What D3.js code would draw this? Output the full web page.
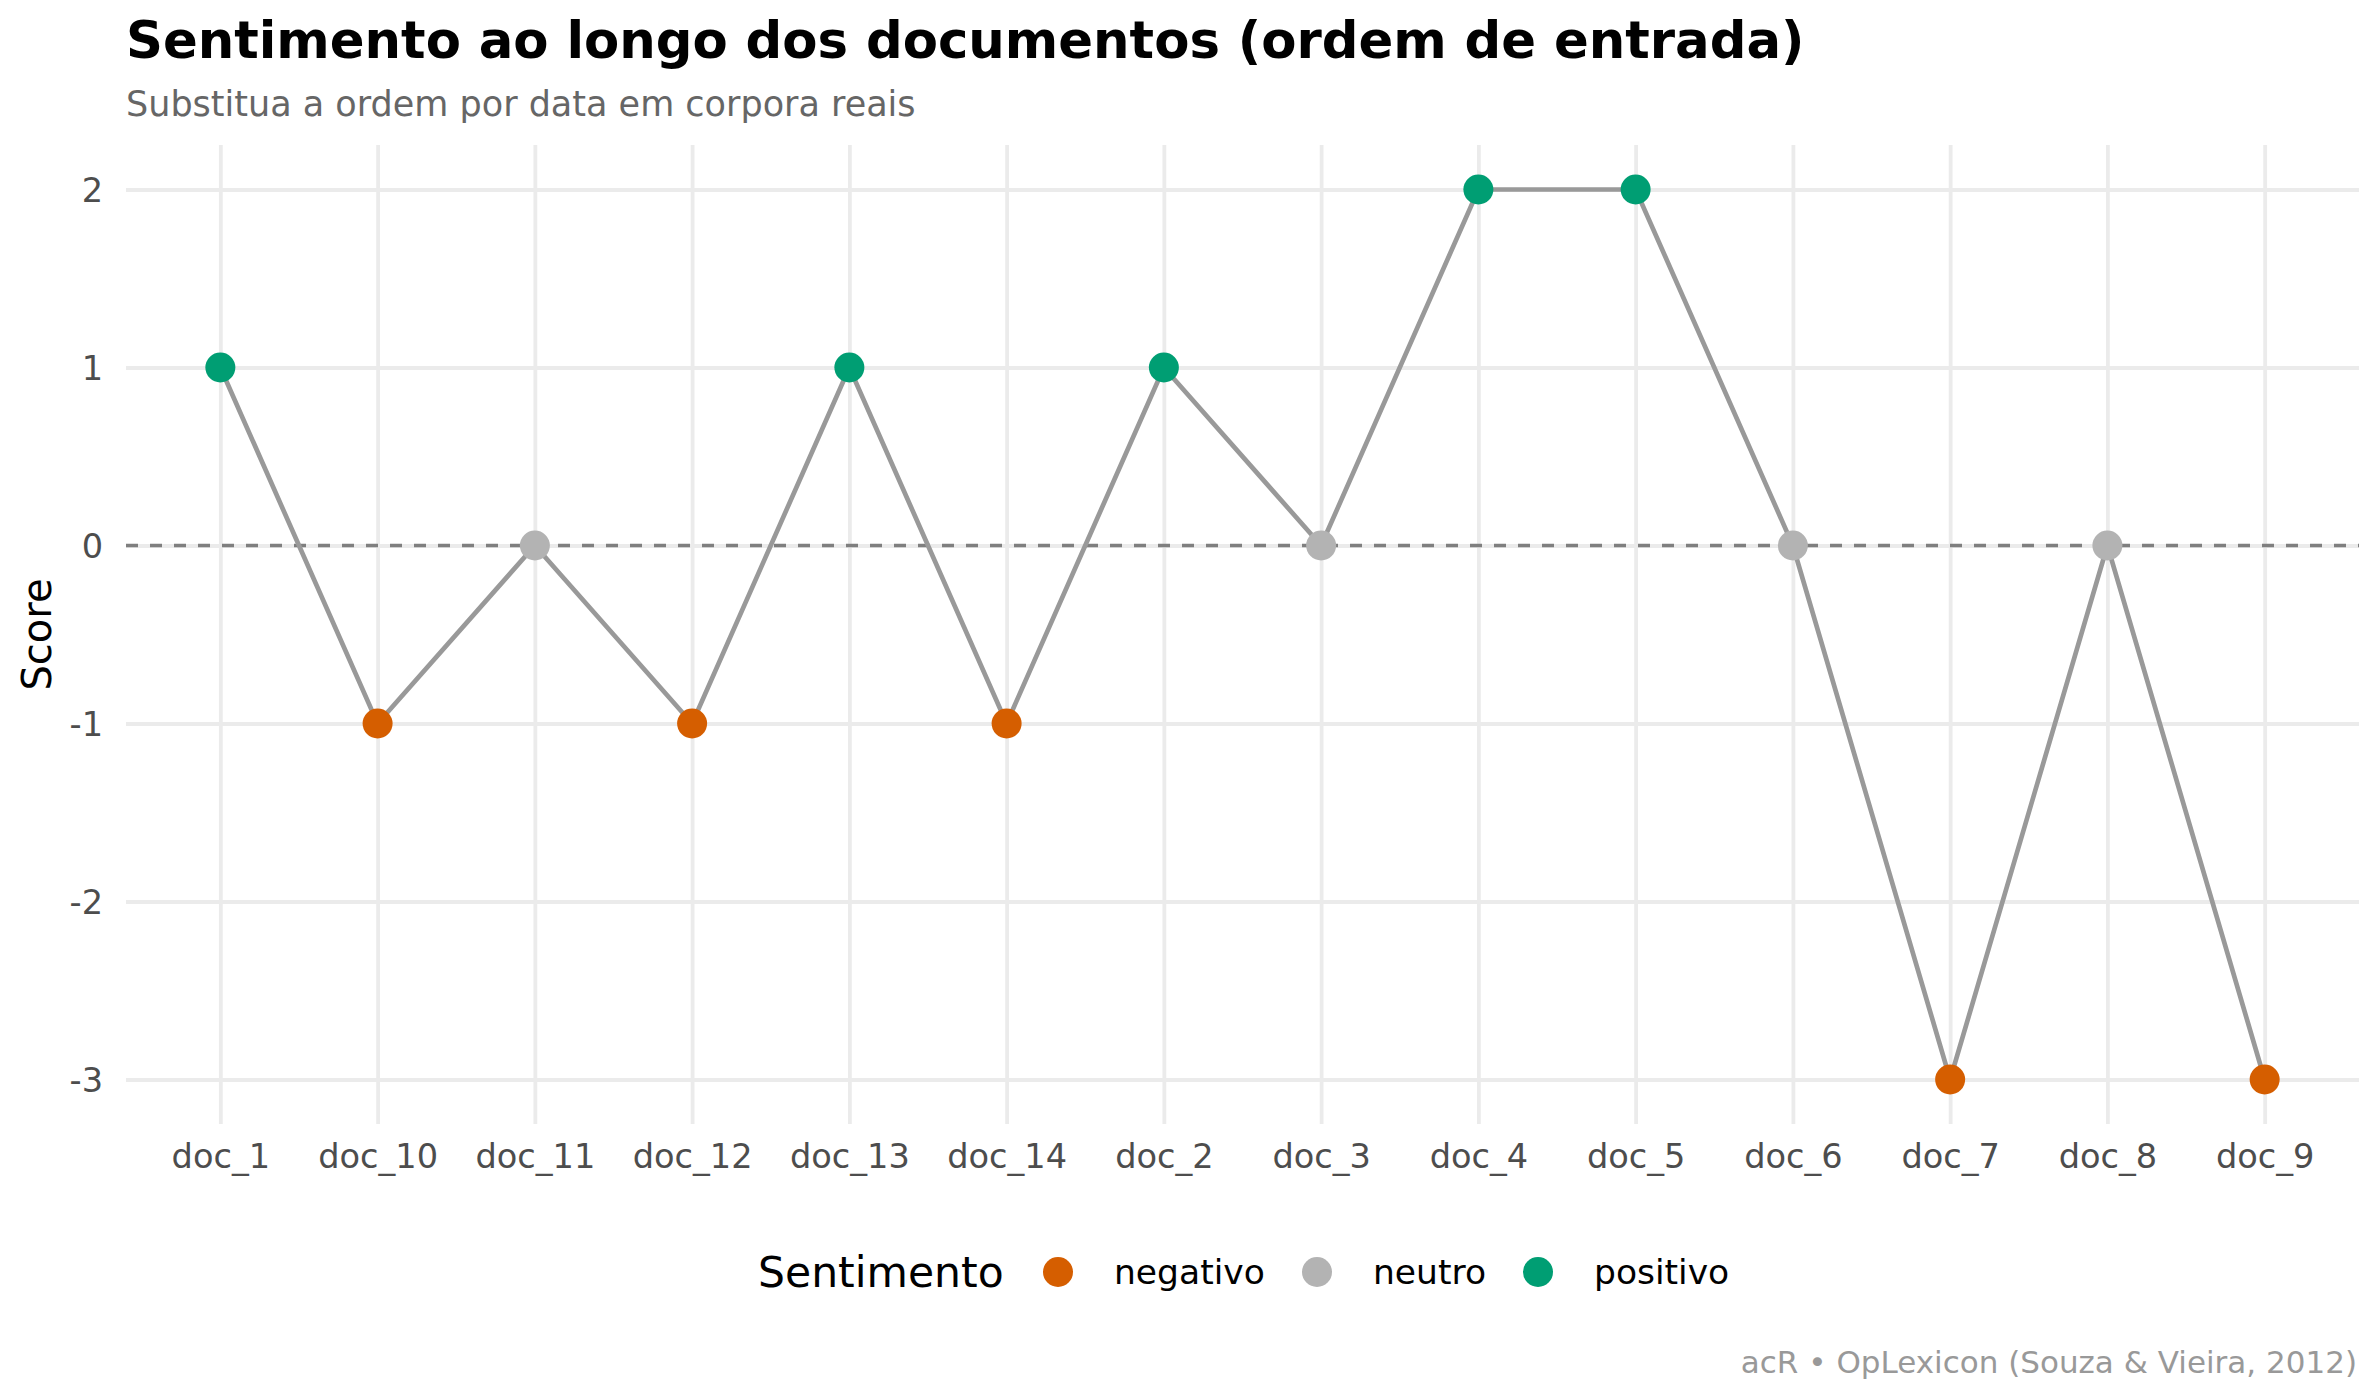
<!DOCTYPE html>
<html>
<head>
<meta charset="utf-8">
<script src="https://cdn.jsdelivr.net/npm/d3@7"></script>
<style>
  body { margin: 0; background: #fff; }
  text { font-family: "DejaVu Sans", sans-serif; }
</style>
</head>
<body>
<div id="chart"></div>
<script>
// data
var docs = ["doc_1", "doc_10", "doc_11", "doc_12", "doc_13", "doc_14", "doc_2",
            "doc_3", "doc_4", "doc_5", "doc_6", "doc_7", "doc_8", "doc_9"];
var scores = [1, -1, 0, -1, 1, -1, 1, 0, 2, 2, 0, -3, 0, -3];
var sentiments = ["positivo", "negativo", "neutro", "negativo", "positivo", "negativo", "positivo",
                  "neutro", "positivo", "positivo", "neutro", "negativo", "neutro", "negativo"];
var categories = ["negativo", "neutro", "positivo"];
var catColors = ["#D55E00", "#B3B3B3", "#009E73"];
var yTicks = [-3, -2, -1, 0, 1, 2];

var width = 2380, height = 1400;
var panel = { left: 126, right: 2359, top: 145, bottom: 1124 };

var svg = d3.select("#chart").append("svg")
    .attr("width", width)
    .attr("height", height);

var rows = docs.map(function (d, i) {
    return { doc: d, score: scores[i], sent: sentiments[i] };
});

// scales, with ggplot-like expansion
var x = d3.scalePoint()
    .domain(docs)
    .range([panel.left, panel.right])
    .padding(0.6);

var y = d3.scaleLinear()
    .domain([-3.25, 2.25])
    .range([panel.bottom, panel.top]);

var color = d3.scaleOrdinal()
    .domain(categories)
    .range(catColors);

// gridlines
svg.append("g")
    .attr("transform", "translate(0," + panel.bottom + ")")
    .call(d3.axisBottom(x).tickSize(-(panel.bottom - panel.top)).tickFormat(""))
    .call(function (g) {
        g.select(".domain").remove();
        g.selectAll("line").attr("stroke", "#EBEBEB").attr("stroke-width", 3.8);
    });

svg.append("g")
    .attr("transform", "translate(" + panel.left + ",0)")
    .call(d3.axisLeft(y).tickValues(yTicks).tickSize(-(panel.right - panel.left)).tickFormat(""))
    .call(function (g) {
        g.select(".domain").remove();
        g.selectAll("line").attr("stroke", "#EBEBEB").attr("stroke-width", 3.8);
    });

// tick labels (plain hyphen for negatives, like the reference)
svg.append("g")
    .attr("transform", "translate(" + (panel.left - 23) + ",0)")
    .call(d3.axisLeft(y).tickValues(yTicks).tickSize(0).tickPadding(0)
        .tickFormat(function (d) { return String(d); }))
    .call(function (g) {
        g.select(".domain").remove();
        g.selectAll("text")
            .attr("fill", "#4D4D4D")
            .style("font-size", "33.6px")
            .attr("dy", "0.36em")
            .style("font-family", "DejaVu Sans");
    });

svg.append("g")
    .attr("transform", "translate(0," + (panel.bottom + 13) + ")")
    .call(d3.axisBottom(x).tickSize(0).tickPadding(0))
    .call(function (g) {
        g.select(".domain").remove();
        g.selectAll("text")
            .attr("fill", "#4D4D4D")
            .style("font-size", "33.6px")
            .attr("dy", 31)
            .style("font-family", "DejaVu Sans");
    });

// zero reference line
svg.append("line")
    .attr("x1", panel.left)
    .attr("x2", panel.right)
    .attr("y1", y(0))
    .attr("y2", y(0))
    .attr("stroke", "#7F7F7F")
    .attr("stroke-width", 3.6)
    .attr("stroke-dasharray", "12,12");

// series line
var line = d3.line()
    .x(function (d) { return x(d.doc); })
    .y(function (d) { return y(d.score); });

svg.append("path")
    .datum(rows)
    .attr("d", line)
    .attr("fill", "none")
    .attr("stroke", "#999999")
    .attr("stroke-width", 4.7);

// points
svg.selectAll("circle.pt")
    .data(rows)
    .enter()
    .append("circle")
    .attr("class", "pt")
    .attr("cx", function (d) { return x(d.doc); })
    .attr("cy", function (d) { return y(d.score); })
    .attr("r", 15)
    .style("fill", function (d) { return color(d.sent); });

// titles
svg.append("text")
    .attr("x", 126)
    .attr("y", 58)
    .style("font-size", "51.3px")
    .style("font-weight", "bold")
    .attr("fill", "#000")
    .text("Sentimento ao longo dos documentos (ordem de entrada)");

svg.append("text")
    .attr("x", 126)
    .attr("y", 116)
    .style("font-size", "35px")
    .attr("fill", "#666666")
    .text("Substitua a ordem por data em corpora reais");

svg.append("text")
    .attr("transform", "translate(51," + ((panel.top + panel.bottom) / 2) + ") rotate(-90)")
    .attr("text-anchor", "middle")
    .style("font-size", "40px")
    .attr("fill", "#000")
    .text("Score");

// legend
var legendY = 1272;
svg.append("text")
    .attr("x", 758)
    .attr("y", legendY)
    .attr("dy", "0.36em")
    .style("font-size", "42.5px")
    .attr("fill", "#000")
    .text("Sentimento");

var legendX = [1058, 1317, 1538];
var legend = svg.selectAll("g.leg")
    .data(categories)
    .enter()
    .append("g")
    .attr("class", "leg")
    .attr("transform", function (d, i) { return "translate(" + legendX[i] + "," + legendY + ")"; });

legend.append("circle")
    .attr("r", 15)
    .style("fill", function (d) { return color(d); });

legend.append("text")
    .attr("x", 56)
    .attr("dy", "0.36em")
    .style("font-size", "34.5px")
    .attr("fill", "#000")
    .text(function (d) { return d; });

// caption
svg.append("text")
    .attr("x", 2357)
    .attr("y", 1373)
    .attr("text-anchor", "end")
    .style("font-size", "31px")
    .attr("fill", "#999999")
    .text("acR \u2022 OpLexicon (Souza & Vieira, 2012)");
</script>
</body>
</html>
